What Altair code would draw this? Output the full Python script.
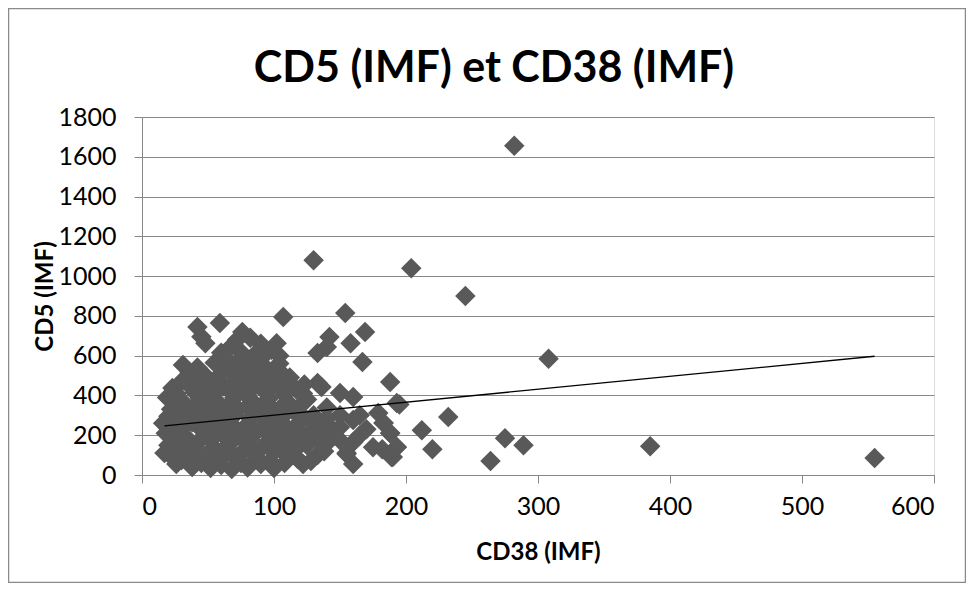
import altair as alt
import pandas as pd

# CD38 (IMF) values (x) and CD5 (IMF) values (y)
cd38 = [
    38, 52, 68, 80, 100, 122, 160,
    22, 30, 45, 58, 72, 88, 97, 110, 118, 133, 155, 190,
    20, 28, 40, 55, 65, 78, 92, 104, 125, 140, 150, 175, 193, 182,
    18, 32, 46, 60, 74, 86, 98, 112, 128, 145, 165, 188,
    16, 25, 38, 50, 64, 80, 95, 108, 120, 137, 160, 183,
    22, 34, 47, 60, 73, 86, 100, 115, 130, 179, 150,
    19, 30, 44, 57, 70, 83, 96, 110, 125, 136, 150, 160, 193,
    23, 36, 50, 62, 76, 90, 103, 117, 133,
    36, 49, 60, 72, 85, 98, 112,
    31, 55, 68, 80, 92, 104,
    60, 74, 86, 98,
    48, 72, 90, 102, 76, 82,
    42, 59, 45, 107,
    133, 142, 140, 158, 169, 154, 167, 188,
    130, 204, 245, 282, 308, 385, 555, 264, 275, 289, 232, 220, 212, 195,
    189, 155, 183, 188, 193, 17,
    26, 45, 60, 75, 90, 108, 128,
    17, 35, 50, 66, 84, 100, 115, 138,
    24, 35, 52, 68, 82, 96, 110, 120, 133, 160,
    20, 30, 44, 57, 70, 90, 103, 116, 130, 150, 170,
    20, 30, 44, 56, 70, 82, 92, 106, 122, 140, 165,
    26, 40, 53, 66, 80, 92, 106, 120, 140,
    26, 40, 54, 68, 80, 94, 108, 122,
    30, 44, 56, 70, 83, 96, 110, 123,
    42, 66, 78, 90, 103,
    62, 76, 90, 104, 68,
]
cd5 = [
    40, 35, 30, 38, 35, 55, 55,
    95, 75, 85, 70, 90, 80, 70, 95, 80, 100, 105, 90,
    150, 130, 145, 135, 150, 130, 145, 140, 150, 160, 175, 140, 140, 130,
    210, 200, 190, 210, 195, 215, 195, 205, 220, 225, 200, 210,
    260, 250, 265, 255, 270, 255, 265, 250, 270, 240, 276, 261,
    330, 310, 325, 315, 330, 310, 325, 320, 300, 312, 300,
    390, 375, 385, 370, 390, 375, 385, 370, 380, 442, 412, 392, 362,
    437, 450, 430, 445, 430, 440, 450, 430, 462,
    518, 493, 510, 495, 505, 500, 490,
    553, 565, 555, 570, 550, 560,
    615, 625, 610, 630,
    663, 680, 660, 663, 719, 690,
    744, 764, 695, 795,
    613, 694, 643, 663, 719, 814, 568, 468,
    1080, 1040, 900, 1655, 585, 145, 85, 70, 185, 150, 292, 130, 225, 355,
    90, 110, 261, 211, 141, 261,
    55, 60, 50, 60, 55, 60, 70,
    110, 115, 110, 115, 110, 115, 120, 120,
    175, 170, 175, 170, 180, 170, 175, 185, 180, 165,
    235, 230, 235, 230, 240, 235, 230, 238, 255, 240, 230,
    295, 285, 290, 290, 300, 285, 295, 290, 295, 285, 300,
    350, 345, 350, 355, 345, 350, 345, 350, 340,
    410, 415, 405, 415, 410, 415, 405, 410,
    470, 480, 470, 475, 470, 475, 470, 455,
    540, 535, 530, 525, 530,
    590, 595, 585, 600, 650,
]

# Linear trend line end points (as drawn in the picture)
trend_x = [17, 555]
trend_y = [247, 597]

x_ticks = [0, 100, 200, 300, 400, 500, 600]
y_ticks = [0, 200, 400, 600, 800, 1000, 1200, 1400, 1600, 1800]

points = pd.DataFrame({"CD38": cd38, "CD5": cd5})
trend = pd.DataFrame({"CD38": trend_x, "CD5": trend_y})

GRAY = "#878787"
FONT = "Lato"

x_enc = alt.X(
    "CD38:Q",
    scale=alt.Scale(domain=[0, 600], nice=False, zero=False),
    axis=alt.Axis(
        title="CD38 (IMF)", values=x_ticks, grid=False, format="d", labelOverlap=False,
        domainColor=GRAY, tickColor=GRAY, tickSize=8, labelPadding=11,
        labelFont=FONT, labelFontSize=25, labelColor="#000000",
        titleFont=FONT, titleFontSize=24, titleFontWeight="bold", titleColor="#000000",
        titleY=77, titleBaseline="middle",
    ),
)
y_enc = alt.Y(
    "CD5:Q",
    scale=alt.Scale(domain=[0, 1800], nice=False, zero=False),
    axis=alt.Axis(
        title="CD5 (IMF)", values=y_ticks, grid=True, gridColor=GRAY, format="d",
        labelOverlap=False,
        domainColor=GRAY, tickColor=GRAY, tickSize=8, labelPadding=18,
        labelFont=FONT, labelFontSize=25, labelColor="#000000",
        titleFont=FONT, titleFontSize=24, titleFontWeight="bold", titleColor="#000000",
        titleX=-97, titleY=179, titleBaseline="middle", titleAngle=-90,
    ),
)

border = alt.Chart(pd.DataFrame({"a": [0]})).mark_rect(
    fill=None, stroke="#8a8a8a", strokeWidth=1.5
).encode(
    x=alt.value(-133.5), x2=alt.value(823.5),
    y=alt.value(-108.5), y2=alt.value(465.5),
)

pts = alt.Chart(points).mark_point(
    shape="diamond", filled=True, size=420, color="#595959", opacity=1
).encode(x=x_enc, y=y_enc)

line = alt.Chart(trend).mark_line(color="#000000", strokeWidth=1.3).encode(
    x=x_enc, y=y_enc
)

chart = alt.layer(border, pts, line).properties(
    width=792, height=358,
    title=alt.TitleParams(
        "CD5 (IMF) et CD38 (IMF)", font=FONT, fontSize=43, fontWeight="bold",
        color="#000000", anchor="middle", dx=-44, dy=117, offset=0, baseline="alphabetic",
    ),
    autosize=alt.AutoSizeParams(type="none"),
    padding={"left": 134, "top": 109, "right": 32, "bottom": 108},
).configure_view(stroke=None).configure(background="#ffffff")

chart.save("out.html", embed_options={"renderer": "svg", "actions": False})
